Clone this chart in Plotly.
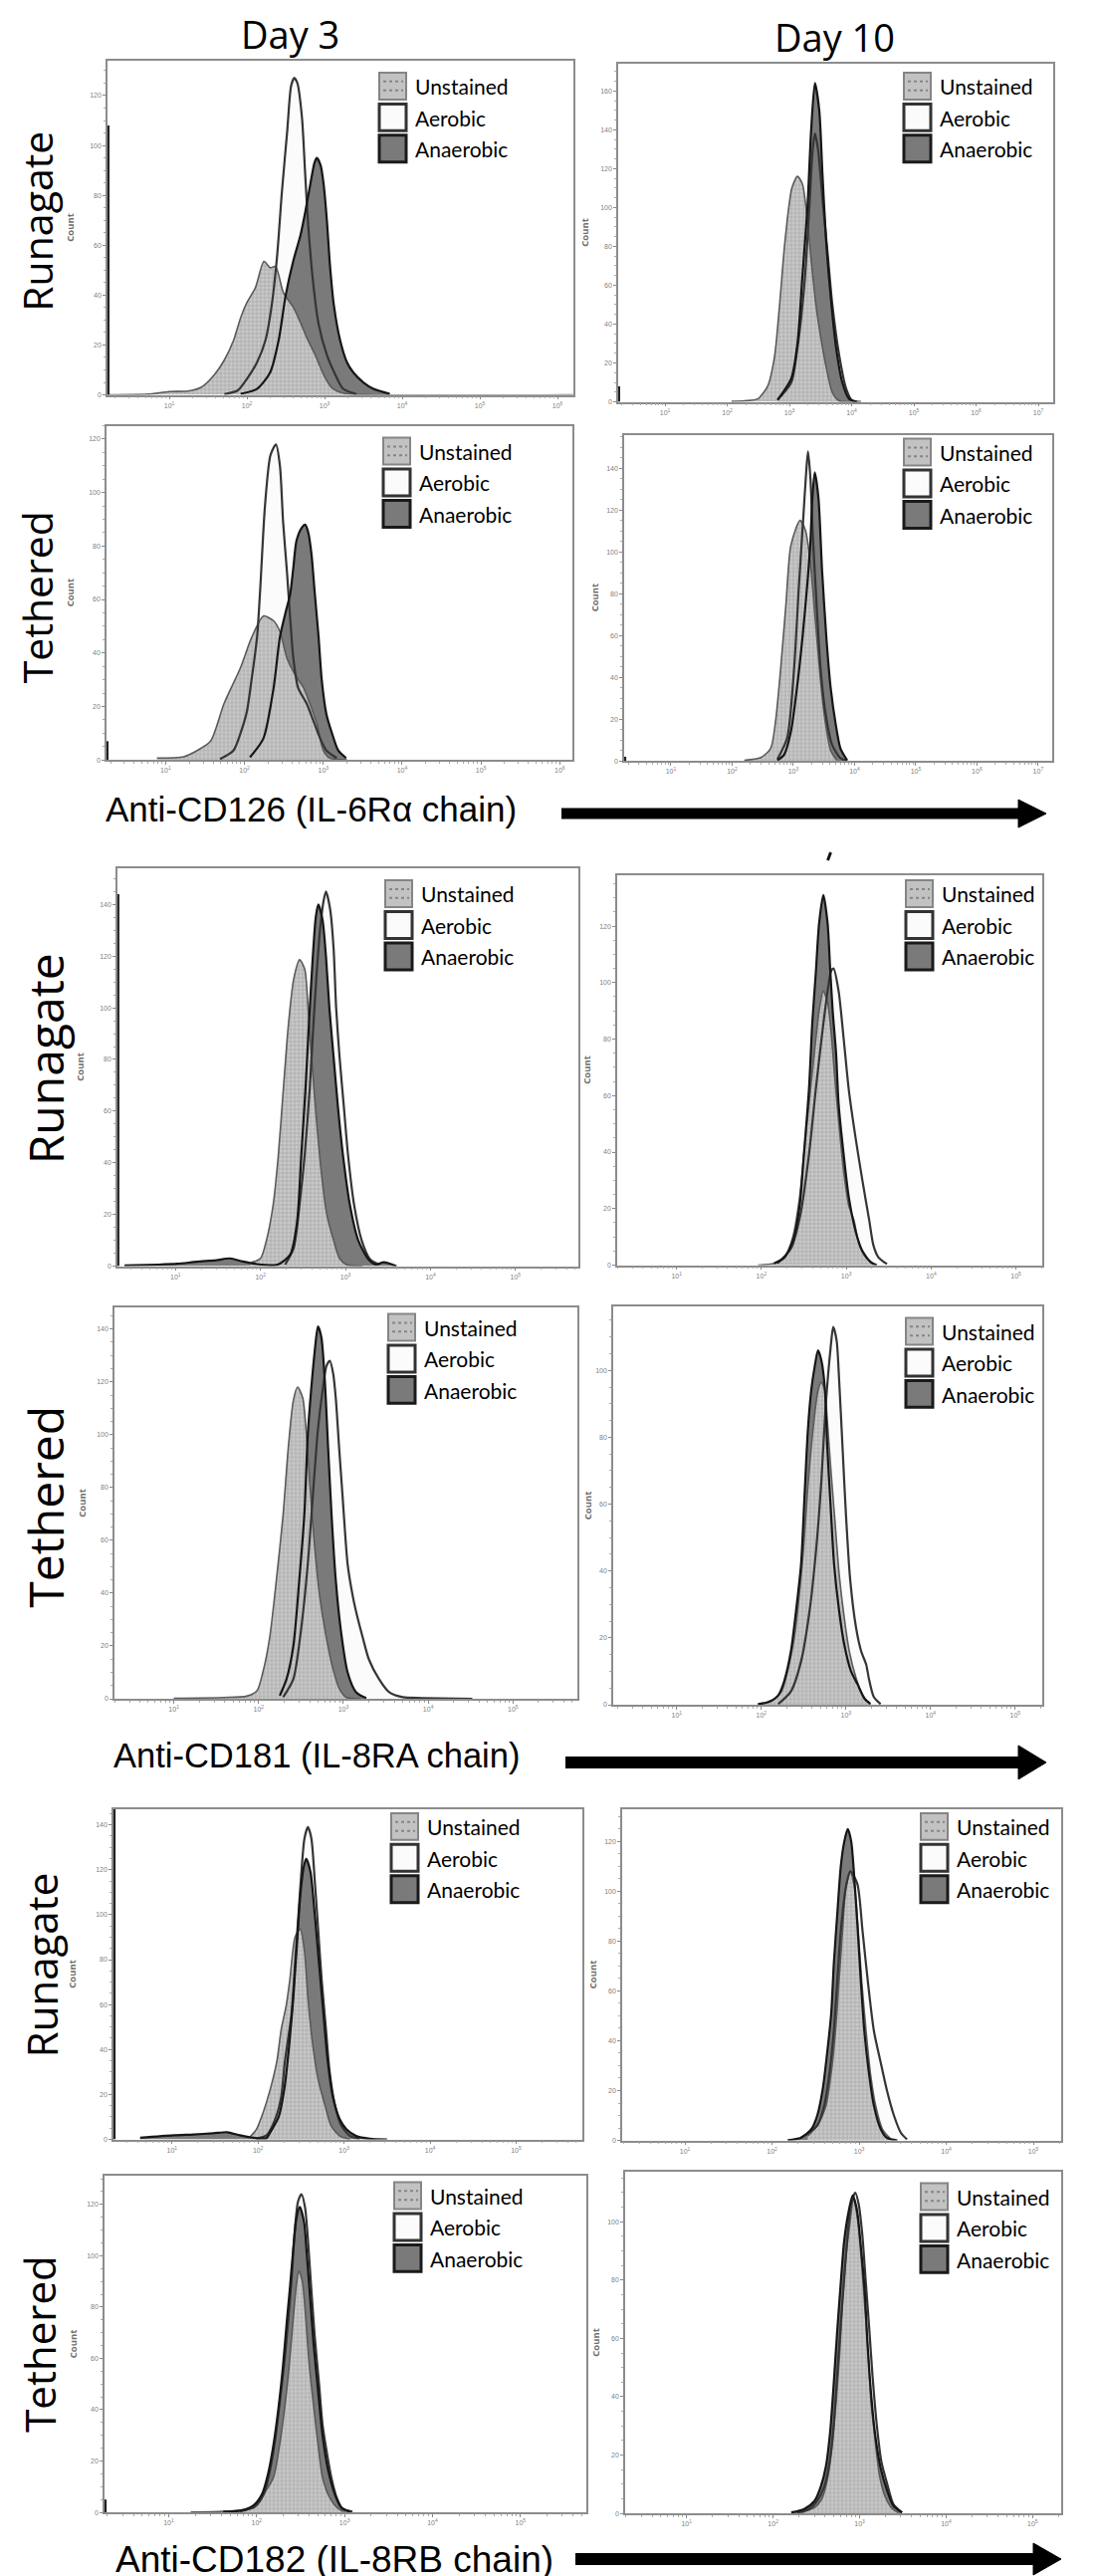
import plotly.graph_objects as go

W, H = 1103, 2587

# ---------------- data: log10(fluorescence) positions and event counts ----------------
# Panel 1: CD126, Runagate, Day 3
P1_UNST_LOG = [0.21, 0.72, 1.0, 1.24, 1.41, 1.58, 1.71, 1.83, 1.92, 2.0, 2.11, 2.22, 2.30, 2.37, 2.47, 2.60, 2.69, 2.77, 2.88, 2.99, 3.09, 3.24, 3.63, 6.2]
P1_UNST_CNT = [0, 0.3, 1.3, 1.5, 3, 8, 14, 22, 31, 37, 43, 53.5, 51, 51.5, 41, 35, 29, 23, 16, 8, 3, 0.7, 0, 0]
P1_AER_LOG = [1.71, 1.88, 2.0, 2.13, 2.24, 2.32, 2.39, 2.45, 2.52, 2.57, 2.61, 2.65, 2.71, 2.75, 2.79, 2.85, 2.92, 3.03, 3.14, 3.24, 3.41]
P1_AER_CNT = [0.3, 1.7, 6.4, 13, 22, 36, 56, 81, 106, 124, 127, 125, 111, 89, 68, 46, 29, 16, 8, 2.4, 0.3]
P1_ANA_LOG = [1.92, 2.13, 2.30, 2.41, 2.50, 2.60, 2.69, 2.75, 2.82, 2.87, 2.90, 2.95, 2.99, 3.03, 3.07, 3.12, 3.20, 3.29, 3.37, 3.50, 3.63, 3.84]
P1_ANA_CNT = [0.4, 2.4, 9, 22, 40, 54, 64, 73, 85, 93, 95, 92, 84, 70, 52, 36, 22, 13, 9, 5, 2.4, 0.4]

# Panel 2: CD126, Runagate, Day 10
P2_UNST_LOG = [2.07, 2.28, 2.49, 2.65, 2.76, 2.84, 2.93, 3.04, 3.13, 3.21, 3.29, 3.35, 3.43, 3.51, 3.59, 3.69, 3.80, 4.0]
P2_UNST_CNT = [0.2, 0.5, 1.5, 8, 23, 49, 83, 110, 116, 112, 93, 73, 49, 32, 18, 4.8, 0.5, 0]
P2_AER_LOG = [2.81, 3.03, 3.13, 3.24, 3.32, 3.37, 3.41, 3.46, 3.53, 3.61, 3.69, 3.80, 3.91, 4.01, 4.15]
P2_AER_CNT = [1, 10, 28, 60, 100, 128, 138, 130, 105, 78, 50, 24, 7, 0.5, 0]
P2_ANA_LOG = [2.81, 3.03, 3.13, 3.21, 3.29, 3.35, 3.41, 3.48, 3.53, 3.59, 3.67, 3.75, 3.85, 3.96, 4.09]
P2_ANA_CNT = [1, 12, 30, 65, 100, 140, 164, 150, 118, 83, 52, 28, 10, 1.5, 0]

# Panel 3: CD126, Tethered, Day 3
P3_UNST_LOG = [0.89, 1.23, 1.40, 1.57, 1.74, 1.95, 2.09, 2.24, 2.37, 2.45, 2.54, 2.66, 2.75, 2.83, 2.92, 3.0, 3.08, 3.3]
P3_UNST_CNT = [0.7, 1.2, 3.5, 7, 21, 34.5, 45.7, 53.8, 52, 48, 38, 31, 27, 21, 13.4, 3.5, 0.7, 0]
P3_AER_LOG = [1.69, 1.86, 1.95, 2.03, 2.09, 2.16, 2.20, 2.26, 2.33, 2.40, 2.45, 2.49, 2.54, 2.58, 2.62, 2.68, 2.79, 2.87, 2.96, 3.04, 3.17]
P3_AER_CNT = [0.3, 3.5, 10, 18, 30, 46, 64, 95, 114, 118, 110, 89, 70, 53, 38, 27, 21, 15, 8, 3.5, 0.7]
P3_ANA_LOG = [2.07, 2.24, 2.37, 2.45, 2.52, 2.58, 2.62, 2.66, 2.73, 2.77, 2.81, 2.85, 2.89, 2.94, 2.98, 3.04, 3.11, 3.19, 3.29]
P3_ANA_CNT = [1, 8, 27, 46, 55, 62, 72, 82, 87, 88, 85, 77, 63, 46, 30, 17, 10, 3.5, 0.7]

# Panel 4: CD126, Tethered, Day 10
P4_UNST_LOG = [2.20, 2.47, 2.63, 2.71, 2.79, 2.88, 2.96, 3.11, 3.20, 3.28, 3.36, 3.44, 3.52, 3.61, 3.71]
P4_UNST_CNT = [0.3, 1.6, 6, 19, 43, 75, 103, 115, 110, 94, 67, 40, 19, 5, 0.3]
P4_AER_LOG = [2.74, 2.90, 3.01, 3.09, 3.16, 3.21, 3.24, 3.28, 3.32, 3.38, 3.44, 3.52, 3.63, 3.77, 3.88]
P4_AER_CNT = [0.8, 11, 43, 83, 115, 138, 148, 135, 107, 75, 46, 24, 8, 1.3, 0]
P4_ANA_LOG = [2.74, 2.85, 2.96, 3.06, 3.15, 3.23, 3.28, 3.31, 3.35, 3.41, 3.47, 3.54, 3.61, 3.69, 3.77, 3.88]
P4_ANA_CNT = [0.3, 3, 14, 35, 59, 85, 105, 125, 138, 126, 91, 59, 35, 18, 6, 0.3]

# Panel 5: CD181, Runagate, Day 3
P5_UNST_LOG = [1.88, 2.0, 2.07, 2.15, 2.21, 2.27, 2.33, 2.39, 2.46, 2.52, 2.56, 2.60, 2.66, 2.72, 2.78, 2.86, 2.93, 3.01, 3.2]
P5_UNST_CNT = [1.3, 3, 10, 24, 43, 69, 94, 111, 118.6, 115, 100, 81, 56, 35, 20, 10, 3, 0.6, 0]
P5_AER_LOG = [2.29, 2.39, 2.46, 2.52, 2.58, 2.62, 2.66, 2.70, 2.74, 2.77, 2.82, 2.86, 2.89, 2.93, 2.98, 3.03, 3.10, 3.19, 3.29, 3.40]
P5_AER_CNT = [0.6, 7, 24, 43, 69, 92, 113, 130, 141, 145, 138, 123, 100, 81, 62, 43, 24, 10, 2.6, 0.6]
P5_ANA_LOG = [0.4, 0.8, 1.02, 1.25, 1.48, 1.64, 1.79, 1.95, 2.2, 2.35, 2.43, 2.48, 2.53, 2.57, 2.61, 2.65, 2.68, 2.73, 2.77, 2.81, 2.86, 2.91, 2.97, 3.05, 3.15, 3.27, 3.36, 3.45, 3.6]
P5_ANA_CNT = [0.3, 0.6, 0.9, 1.7, 2.3, 3.0, 1.8, 0.8, 0.6, 4.5, 17, 43, 69, 94, 117, 135, 140, 134, 120, 100, 81, 62, 43, 24, 10, 2.6, 0.6, 1.5, 0]

# Panel 6: CD181, Runagate, Day 10
P6_UNST_LOG = [1.96, 2.15, 2.27, 2.37, 2.45, 2.50, 2.56, 2.62, 2.68, 2.73, 2.78, 2.82, 2.86, 2.91, 2.97, 3.03, 3.09, 3.15, 3.23, 3.32]
P6_UNST_CNT = [0, 0.6, 2.7, 10, 24, 39, 57, 74, 90, 97, 93, 83, 68, 51, 33, 21, 16, 7.4, 2.7, 0.4]
P6_AER_LOG = [2.19, 2.35, 2.46, 2.56, 2.64, 2.72, 2.78, 2.82, 2.85, 2.91, 2.97, 3.03, 3.11, 3.19, 3.27, 3.32, 3.38, 3.48]
P6_AER_CNT = [0.6, 6, 18, 39, 62, 83, 97, 104, 105, 97, 80, 62, 45, 30, 16, 7, 2.7, 0.4]
P6_ANA_LOG = [2.15, 2.27, 2.37, 2.45, 2.50, 2.56, 2.60, 2.64, 2.68, 2.73, 2.78, 2.81, 2.84, 2.88, 2.91, 2.97, 3.03, 3.11, 3.19, 3.29, 3.36]
P6_ANA_CNT = [0.6, 2.7, 8.5, 21, 39, 62, 86, 103, 121, 131, 121, 105, 90, 75, 57, 39, 24, 12, 5, 1, 0]

# Panel 7: CD181, Tethered, Day 3
P7_UNST_LOG = [1.0, 1.59, 1.86, 1.98, 2.05, 2.13, 2.21, 2.29, 2.35, 2.41, 2.46, 2.52, 2.56, 2.60, 2.66, 2.72, 2.80, 2.88, 2.95, 3.03, 3.2]
P7_UNST_CNT = [0.2, 0.5, 1, 3, 10, 23, 45, 70, 95, 113, 118, 114, 102, 83, 58, 39, 23, 11, 4, 0.6, 0]
P7_AER_LOG = [2.29, 2.41, 2.50, 2.58, 2.64, 2.70, 2.76, 2.80, 2.84, 2.88, 2.91, 2.95, 2.99, 3.05, 3.11, 3.15, 3.23, 3.30, 3.42, 3.54, 3.70, 3.93, 4.52]
P7_AER_CNT = [0.6, 7.5, 26, 51, 77, 102, 118, 126, 128, 123, 114, 95, 77, 51, 39, 33, 23, 15, 7.5, 2.5, 0.6, 0.3, 0]
P7_ANA_LOG = [2.25, 2.33, 2.41, 2.48, 2.54, 2.58, 2.62, 2.66, 2.70, 2.74, 2.78, 2.82, 2.86, 2.91, 2.97, 3.05, 3.15, 3.27]
P7_ANA_CNT = [1.2, 7.5, 20, 45, 70, 100, 117, 131, 141, 137, 121, 95, 70, 45, 26, 10, 2.5, 0.3]

# Panel 8: CD181, Tethered, Day 10
P8_UNST_LOG = [2.0, 2.12, 2.24, 2.31, 2.39, 2.45, 2.50, 2.55, 2.61, 2.67, 2.71, 2.75, 2.78, 2.82, 2.87, 2.92, 2.98, 3.04, 3.12, 3.20, 3.27]
P8_UNST_CNT = [0.2, 1, 4, 10, 20, 33, 47, 65, 82, 94, 96.5, 94, 85, 71, 55, 39, 26, 16, 8, 2.8, 0.5]
P8_AER_LOG = [2.20, 2.35, 2.47, 2.57, 2.65, 2.71, 2.76, 2.82, 2.85, 2.89, 2.92, 2.96, 3.0, 3.05, 3.12, 3.18, 3.24, 3.27, 3.33, 3.41]
P8_AER_CNT = [0.2, 4, 13, 28, 47, 67, 89, 107, 113, 109, 97, 77, 57, 37.5, 23, 16, 12, 8, 2.3, 0.2]
P8_ANA_LOG = [1.96, 2.08, 2.20, 2.27, 2.35, 2.41, 2.47, 2.51, 2.55, 2.59, 2.63, 2.67, 2.71, 2.75, 2.78, 2.82, 2.86, 2.92, 2.98, 3.06, 3.14, 3.22, 3.29]
P8_ANA_CNT = [0.2, 0.8, 2.8, 7, 16, 28, 42, 62, 82, 94, 101, 106, 103, 95, 77, 59, 42, 28, 18, 10, 6, 1.8, 0.3]

# Panel 9: CD182, Runagate, Day 3
P9_UNST_LOG = [1.91, 1.98, 2.06, 2.14, 2.22, 2.27, 2.33, 2.37, 2.43, 2.49, 2.54, 2.58, 2.64, 2.70, 2.78, 2.85, 2.95, 3.07]
P9_UNST_CNT = [1.2, 4.4, 12, 22, 35, 49, 60, 71, 90, 93.7, 84, 63, 41, 26.5, 15, 6, 1.5, 0]
P9_AER_LOG = [1.98, 2.10, 2.20, 2.27, 2.31, 2.39, 2.43, 2.47, 2.51, 2.54, 2.58, 2.62, 2.66, 2.70, 2.74, 2.79, 2.83, 2.89, 2.97, 3.07, 3.18]
P9_AER_CNT = [0.3, 1.8, 9, 19, 34, 56, 78, 100, 122, 134, 139, 134, 115, 93, 71, 49, 31, 16, 6, 1.5, 0.3]
P9_ANA_LOG = [0.63, 1.02, 1.25, 1.48, 1.64, 1.79, 1.95, 2.10, 2.14, 2.24, 2.31, 2.36, 2.41, 2.45, 2.49, 2.53, 2.56, 2.61, 2.66, 2.71, 2.76, 2.81, 2.87, 2.95, 3.03, 3.14, 3.30, 3.5]
P9_ANA_CNT = [0.7, 1.8, 2.2, 2.7, 3.2, 1.8, 0.7, 0.6, 3, 10, 23.6, 41, 63, 85.5, 108, 121, 125, 119, 100, 78, 56, 35, 19, 9, 4.4, 1.5, 0.3, 0]

# Panel 10: CD182, Runagate, Day 10
P10_UNST_LOG = [2.41, 2.52, 2.62, 2.68, 2.73, 2.77, 2.81, 2.85, 2.90, 2.95, 2.99, 3.03, 3.08, 3.13, 3.19, 3.27, 3.36]
P10_UNST_CNT = [1.7, 6, 14, 27, 44, 64, 84, 102, 108, 101, 84, 64, 44, 27, 14, 4.4, 0.7]
P10_AER_LOG = [2.33, 2.52, 2.60, 2.66, 2.71, 2.75, 2.79, 2.85, 2.90, 2.98, 3.04, 3.10, 3.17, 3.25, 3.32, 3.40, 3.48, 3.55]
P10_AER_CNT = [1, 6, 14, 27, 44, 64, 84, 102, 108, 103, 84, 64, 44, 31, 20, 10, 3, 0.4]
P10_ANA_LOG = [2.18, 2.33, 2.45, 2.52, 2.58, 2.63, 2.68, 2.71, 2.75, 2.79, 2.83, 2.87, 2.91, 2.94, 2.98, 3.02, 3.06, 3.11, 3.17, 3.25, 3.32, 3.44]
P10_ANA_CNT = [0.1, 1, 4.4, 10, 20, 34, 51, 71, 91, 110, 120, 125, 120, 108, 87, 64, 44, 28, 14, 4.4, 1, 0]

# Panel 11: CD182, Tethered, Day 3
P11_UNST_LOG = [1.25, 1.62, 1.89, 2.0, 2.08, 2.19, 2.26, 2.32, 2.37, 2.41, 2.45, 2.48, 2.52, 2.56, 2.60, 2.65, 2.70, 2.75, 2.83, 2.91, 2.98]
P11_UNST_CNT = [0.1, 0.4, 1.3, 3.2, 7, 13.5, 26, 41, 57, 73, 88, 94, 90, 75, 57, 41, 26, 13.5, 5.8, 2, 0.4]
P11_AER_LOG = [1.81, 1.98, 2.08, 2.15, 2.21, 2.26, 2.32, 2.36, 2.40, 2.43, 2.47, 2.51, 2.55, 2.58, 2.62, 2.66, 2.71, 2.75, 2.80, 2.85, 2.91, 2.98, 3.09]
P11_AER_CNT = [0.4, 2.2, 7, 16, 28, 42, 60, 75, 92, 108, 121, 124, 119, 108, 88, 69, 50, 34, 23, 13.5, 5.8, 1.3, 0.3]
P11_ANA_LOG = [1.62, 1.81, 1.96, 2.06, 2.13, 2.19, 2.25, 2.30, 2.34, 2.38, 2.42, 2.45, 2.49, 2.54, 2.57, 2.61, 2.65, 2.70, 2.75, 2.81, 2.89, 2.96, 3.06]
P11_ANA_CNT = [0.3, 0.6, 2.6, 7, 15, 26, 41, 57, 73, 88, 104, 114, 119, 113, 101, 83, 65, 47, 30, 17, 7, 2, 0.3]

# Panel 12: CD182, Tethered, Day 10
P12_UNST_LOG = [2.36, 2.48, 2.57, 2.63, 2.69, 2.73, 2.77, 2.80, 2.84, 2.89, 2.93, 2.98, 3.02, 3.06, 3.10, 3.13, 3.18, 3.23, 3.30, 3.38, 3.45]
P12_UNST_CNT = [0.6, 2, 5.4, 12, 25, 39, 55, 71, 87, 100, 108, 100, 87, 71, 55, 39, 25, 13, 5.4, 1.5, 0.2]
P12_AER_LOG = [2.28, 2.42, 2.51, 2.59, 2.65, 2.70, 2.74, 2.78, 2.82, 2.86, 2.90, 2.95, 2.99, 3.03, 3.07, 3.11, 3.15, 3.20, 3.25, 3.32, 3.39, 3.49]
P12_AER_CNT = [0.3, 1.5, 4.3, 9, 17, 30, 47, 64, 80, 95, 106, 110, 106, 96, 80, 64, 47, 30, 18, 10, 3.2, 0.3]
P12_ANA_LOG = [2.21, 2.36, 2.48, 2.55, 2.61, 2.66, 2.70, 2.74, 2.78, 2.82, 2.87, 2.92, 2.97, 3.01, 3.06, 3.09, 3.13, 3.18, 3.24, 3.32, 3.39, 3.49]
P12_ANA_CNT = [0.3, 1.5, 4.3, 9, 16, 28, 44, 62, 78, 93, 103, 109, 104, 93, 76, 59, 42, 27, 16, 7.7, 2.6, 0.3]

# events piled up in the lowest channel (left edge spike) per panel
SPIKE_LOG = [0.215, 0.26, 0.26, 0.25, 0.325, 0.31, 0.31, 0.26, 0.33, 0.29, 0.28, 0.30]
SPIKE_CNT = [108, 8, 7, 2, 144, 0, 0, 0, 147, 0, 5, 0]

# axis extents per panel
Y_MAX = [134, 174, 125, 156, 154, 138, 148, 119, 147, 133, 131, 117]
X_LOG_MIN = [0.205, 0.248, 0.25, 0.236, 0.317, 0.30, 0.30, 0.25, 0.32, 0.28, 0.27, 0.29]
X_LOG_MAX = [6.205, 7.24, 6.16, 7.23, 5.74, 5.31, 5.76, 5.32, 5.77, 5.32, 5.75, 5.33]
Y_TICKS = [0, 20, 40, 60, 80, 100, 120, 140, 160]
X_DECADES = [1, 2, 3, 4, 5, 6, 7]

LEGEND_LABELS = ["Unstained", "Aerobic", "Anaerobic"]
ROW_LABELS = ["Runagate", "Tethered", "Runagate", "Tethered", "Runagate", "Tethered"]
COL_TITLES = ["Day 3", "Day 10"]
MARKER_TITLES = ["Anti-CD126 (IL-6Rα chain)", "Anti-CD181 (IL-8RA chain)", "Anti-CD182 (IL-8RB chain)"]

SERIES = [
    (P1_UNST_LOG, P1_UNST_CNT, P1_AER_LOG, P1_AER_CNT, P1_ANA_LOG, P1_ANA_CNT),
    (P2_UNST_LOG, P2_UNST_CNT, P2_AER_LOG, P2_AER_CNT, P2_ANA_LOG, P2_ANA_CNT),
    (P3_UNST_LOG, P3_UNST_CNT, P3_AER_LOG, P3_AER_CNT, P3_ANA_LOG, P3_ANA_CNT),
    (P4_UNST_LOG, P4_UNST_CNT, P4_AER_LOG, P4_AER_CNT, P4_ANA_LOG, P4_ANA_CNT),
    (P5_UNST_LOG, P5_UNST_CNT, P5_AER_LOG, P5_AER_CNT, P5_ANA_LOG, P5_ANA_CNT),
    (P6_UNST_LOG, P6_UNST_CNT, P6_AER_LOG, P6_AER_CNT, P6_ANA_LOG, P6_ANA_CNT),
    (P7_UNST_LOG, P7_UNST_CNT, P7_AER_LOG, P7_AER_CNT, P7_ANA_LOG, P7_ANA_CNT),
    (P8_UNST_LOG, P8_UNST_CNT, P8_AER_LOG, P8_AER_CNT, P8_ANA_LOG, P8_ANA_CNT),
    (P9_UNST_LOG, P9_UNST_CNT, P9_AER_LOG, P9_AER_CNT, P9_ANA_LOG, P9_ANA_CNT),
    (P10_UNST_LOG, P10_UNST_CNT, P10_AER_LOG, P10_AER_CNT, P10_ANA_LOG, P10_ANA_CNT),
    (P11_UNST_LOG, P11_UNST_CNT, P11_AER_LOG, P11_AER_CNT, P11_ANA_LOG, P11_ANA_CNT),
    (P12_UNST_LOG, P12_UNST_CNT, P12_AER_LOG, P12_AER_CNT, P12_ANA_LOG, P12_ANA_CNT),
]

# ---------------- layout (pixel geometry) ----------------
BOX = [(100, 568, 53, 389), (613, 1050, 56, 396),
       (99, 567, 420, 756), (619, 1049, 429, 757),
       (110, 573, 865, 1265), (612, 1039, 872, 1264),
       (107, 572, 1307, 1700), (608, 1039, 1306, 1706),
       (106, 577, 1811, 2143), (617, 1058, 1811, 2144),
       (97, 581, 2180, 2518), (620, 1058, 2176, 2519)]
LEG_OFF = [(195, 12), (150, 9), (190, 12), (149, 4), (194, 12), (137, 5),
           (190, 6), (137, 11), (192, 4), (141, 4), (193, 6), (141, 11)]
COUNT_OFF = [37, 33, 37, 30, 37, 30, 32, 26, 41, 30, 32, 29]


def px(x):
    return x / W


def py(y):
    return 1 - y / H


fig = go.Figure()
shapes = []
annotations = []

UNST_PATTERN = dict(shape="+", bgcolor="#c9c9c9", fgcolor="#888888", size=4, solidity=0.35)

for i, (ul, uc, al, ac, nl, nc) in enumerate(SERIES):
    sfx = "" if i == 0 else str(i + 1)
    xa, ya = "x" + sfx, "y" + sfx
    l, r, t, b = BOX[i]

    def xs(v):
        return [10 ** k for k in v]

    # fills: aerobic (back), anaerobic, unstained (front)
    fig.add_trace(go.Scatter(x=xs(al), y=ac, mode="lines", fill="tozeroy", fillcolor="#fbfbfb",
                             line=dict(width=0, shape="spline", smoothing=0.7),
                             hoverinfo="skip", showlegend=False, xaxis=xa, yaxis=ya))
    fig.add_trace(go.Scatter(x=xs(nl), y=nc, mode="lines", fill="tozeroy", fillcolor="#7a7a7a",
                             line=dict(width=0, shape="spline", smoothing=0.7),
                             hoverinfo="skip", showlegend=False, xaxis=xa, yaxis=ya))
    fig.add_trace(go.Scatter(x=xs(ul), y=uc, mode="lines", fill="tozeroy", fillcolor="#c0c0c0",
                             fillpattern=UNST_PATTERN,
                             line=dict(width=0, shape="spline", smoothing=0.7),
                             hoverinfo="skip", showlegend=False, xaxis=xa, yaxis=ya))
    # outlines on top
    fig.add_trace(go.Scatter(x=xs(ul), y=uc, mode="lines",
                             line=dict(width=1.6, color="#5a5a5a", shape="spline", smoothing=0.7),
                             hoverinfo="skip", showlegend=False, xaxis=xa, yaxis=ya))
    fig.add_trace(go.Scatter(x=xs(al), y=ac, mode="lines",
                             line=dict(width=2.2, color="#353535", shape="spline", smoothing=0.7),
                             hoverinfo="skip", showlegend=False, xaxis=xa, yaxis=ya))
    fig.add_trace(go.Scatter(x=xs(nl), y=nc, mode="lines",
                             line=dict(width=2.2, color="#161616", shape="spline", smoothing=0.7),
                             hoverinfo="skip", showlegend=False, xaxis=xa, yaxis=ya))
    if SPIKE_CNT[i] > 0:
        fig.add_trace(go.Scatter(x=[10 ** SPIKE_LOG[i]] * 2, y=[0, SPIKE_CNT[i]], mode="lines",
                                 line=dict(width=2.5, color="#222"),
                                 hoverinfo="skip", showlegend=False, xaxis=xa, yaxis=ya))

    fig.layout["xaxis" + sfx] = dict(
        domain=[px(l), px(r)], anchor=ya, type="log",
        range=[X_LOG_MIN[i], X_LOG_MAX[i]],
        tickmode="array", tickvals=[10 ** k for k in X_DECADES],
        ticktext=["10<sup>%d</sup>" % k for k in X_DECADES],
        tickfont=dict(size=7, color="#808080", family="Arial"),
        ticks="outside", ticklen=3, tickcolor="#888",
        minor=dict(ticks="outside", ticklen=2, tickcolor="#aaa", dtick="D1"),
        showline=True, mirror=True, linecolor="#8c8c8c", linewidth=1.5,
        showgrid=False, zeroline=False, fixedrange=True)
    fig.layout["yaxis" + sfx] = dict(
        domain=[py(b), py(t)], anchor=xa, range=[0, Y_MAX[i]],
        tickmode="array", tickvals=[v for v in Y_TICKS if v <= Y_MAX[i]],
        tickfont=dict(size=7, color="#808080", family="Arial"),
        ticks="outside", ticklen=3, tickcolor="#888",
        minor=dict(ticks="outside", ticklen=2, tickcolor="#aaa", dtick=5),
        showline=True, mirror=True, linecolor="#8c8c8c", linewidth=1.5,
        showgrid=False, zeroline=False, fixedrange=True)

    # "Count" axis title
    annotations.append(dict(x=px(l - COUNT_OFF[i]), y=py((t + b) / 2), xref="paper", yref="paper",
                            text="<b>Count</b>", textangle=-90, showarrow=False,
                            font=dict(size=9.5, color="#6e6e6e", family="Open Sans"),
                            xanchor="center", yanchor="middle"))

    # in-panel legend
    bx = r - LEG_OFF[i][0]
    by = t + LEG_OFF[i][1]
    for k, lab in enumerate(LEGEND_LABELS):
        y0 = by + k * 31.5
        y1 = y0 + 27
        if k == 0:
            shapes.append(dict(type="rect", xref="paper", yref="paper", x0=px(bx), x1=px(bx + 27),
                               y0=py(y1), y1=py(y0), fillcolor="#c2c2c2",
                               line=dict(color="#858585", width=2)))
            for f in (0.33, 0.66):
                shapes.append(dict(type="line", xref="paper", yref="paper", x0=px(bx + 4), x1=px(bx + 24),
                                   y0=py(y0 + 27 * f), y1=py(y0 + 27 * f),
                                   line=dict(color="#858585", width=2, dash="dot")))
        elif k == 1:
            shapes.append(dict(type="rect", xref="paper", yref="paper", x0=px(bx), x1=px(bx + 27),
                               y0=py(y1), y1=py(y0), fillcolor="#fbfbfb",
                               line=dict(color="#333333", width=3)))
        else:
            shapes.append(dict(type="rect", xref="paper", yref="paper", x0=px(bx), x1=px(bx + 27),
                               y0=py(y1), y1=py(y0), fillcolor="#7a7a7a",
                               line=dict(color="#1a1a1a", width=3)))
        annotations.append(dict(x=px(bx + 34), y=py(y0 + 14), xref="paper", yref="paper",
                                text=lab, showarrow=False, xanchor="left", yanchor="middle",
                                font=dict(size=21, color="#000", family="Lato")))

# column titles (top-anchored so they stay inside the page)
for txt, cx, cy in zip(COL_TITLES, [283, 830], [-1, 2]):
    annotations.append(dict(x=px(cx), y=py(cy), xref="paper", yref="paper", text=txt,
                            showarrow=False, xanchor="center", yanchor="top", borderpad=0,
                            font=dict(size=38, color="#000", family="Open Sans")))

# row labels (left-anchored so they stay inside the page)
ROW_POS = [(0, 215, 41), (0, 593, 41), (4, 1057, 48), (4, 1507, 48), (4, 1968, 42), (2, 2349, 42)]
for txt, (cx, cy, fs) in zip(ROW_LABELS, ROW_POS):
    annotations.append(dict(x=px(cx), y=py(cy), xref="paper", yref="paper", text=txt,
                            textangle=-90, showarrow=False, xanchor="left", yanchor="middle",
                            borderpad=0,
                            font=dict(size=fs, color="#000", family="Open Sans")))

# marker titles and arrows
TITLE_POS = [(97, 805, 35, "middle"), (105, 1757, 34.5, "middle"), (107, 2587, 37, "bottom")]
ARROWS = [(556, 1015, 1043, 810, 11, 14), (560, 1015, 1043, 1764, 12, 17), (570, 1030, 1058, 2565, 12, 16)]
for txt, (tx, ty, fs, ya_) in zip(MARKER_TITLES, TITLE_POS):
    annotations.append(dict(x=px(tx), y=py(ty), xref="paper", yref="paper", text=txt,
                            showarrow=False, xanchor="left", yanchor=ya_, borderpad=0,
                            font=dict(size=fs, color="#000", family="Liberation Sans")))
for (x0, xb, xt, yc, lw, hh) in ARROWS:
    shapes.append(dict(type="line", xref="paper", yref="paper", x0=px(x0), x1=px(xb + 4),
                       y0=py(yc), y1=py(yc), line=dict(color="#000", width=lw)))
    path = "M %f %f L %f %f L %f %f Z" % (px(xt), py(yc), px(xb), py(yc - hh), px(xb), py(yc + hh))
    shapes.append(dict(type="path", xref="paper", yref="paper", path=path,
                       fillcolor="#000", line=dict(color="#000", width=1)))

# small stray mark above the Day-10 CD181 panel
shapes.append(dict(type="line", xref="paper", yref="paper", x0=px(823.5), x1=px(826.5),
                   y0=py(857), y1=py(849), line=dict(color="#111", width=3)))

fig.update_layout(width=W, height=H, margin=dict(l=0, r=0, t=0, b=0),
                  paper_bgcolor="white", plot_bgcolor="white",
                  shapes=shapes, annotations=annotations, showlegend=False)

fig.write_html("out.html")
